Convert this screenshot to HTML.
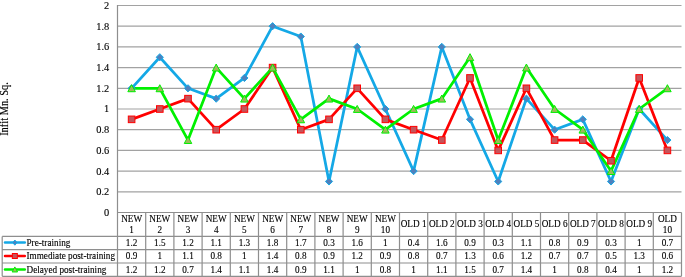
<!DOCTYPE html><html><head><meta charset="utf-8"><style>html,body{margin:0;padding:0;background:#fff;}body{width:685px;height:277px;overflow:hidden;}svg{display:block;will-change:transform;}text{font-family:"Liberation Serif",serif;fill:#000;stroke:#000;stroke-width:0.12px;}</style></head><body>
<svg width="685" height="277" viewBox="0 0 685 277">
<path d="M117.50 191.80H681.50M117.50 171.10H681.50M117.50 150.40H681.50M117.50 129.70H681.50M117.50 109.00H681.50M117.50 88.30H681.50M117.50 67.60H681.50M117.50 46.90H681.50M117.50 26.20H681.50M117.50 5.50H681.50" stroke="#a2a2a2" stroke-width="1.2" fill="none"/>
<path d="M117.50 5.00V276.30M117.50 212.50H681.50M145.70 212.50V276.30M173.90 212.50V276.30M202.10 212.50V276.30M230.30 212.50V276.30M258.50 212.50V276.30M286.70 212.50V276.30M314.90 212.50V276.30M343.10 212.50V276.30M371.30 212.50V276.30M399.50 212.50V276.30M427.70 212.50V276.30M455.90 212.50V276.30M484.10 212.50V276.30M512.30 212.50V276.30M540.50 212.50V276.30M568.70 212.50V276.30M596.90 212.50V276.30M625.10 212.50V276.30M653.30 212.50V276.30M681.50 212.50V276.30M2.20 236.40H681.50M2.20 249.70H681.50M2.20 263.00H681.50M2.20 276.30H681.50M2.20 236.40V276.30" stroke="#8e8e8e" stroke-width="1.2" fill="none"/>
<text transform="translate(109.30 215.90) scale(1 1.070)" font-size="10.4" text-anchor="end">0</text>
<text transform="translate(109.30 195.20) scale(1 1.070)" font-size="10.4" text-anchor="end">0.2</text>
<text transform="translate(109.30 174.50) scale(1 1.070)" font-size="10.4" text-anchor="end">0.4</text>
<text transform="translate(109.30 153.80) scale(1 1.070)" font-size="10.4" text-anchor="end">0.6</text>
<text transform="translate(109.30 133.10) scale(1 1.070)" font-size="10.4" text-anchor="end">0.8</text>
<text transform="translate(109.30 112.40) scale(1 1.070)" font-size="10.4" text-anchor="end">1</text>
<text transform="translate(109.30 91.70) scale(1 1.070)" font-size="10.4" text-anchor="end">1.2</text>
<text transform="translate(109.30 71.00) scale(1 1.070)" font-size="10.4" text-anchor="end">1.4</text>
<text transform="translate(109.30 50.30) scale(1 1.070)" font-size="10.4" text-anchor="end">1.6</text>
<text transform="translate(109.30 29.60) scale(1 1.070)" font-size="10.4" text-anchor="end">1.8</text>
<text transform="translate(109.30 8.90) scale(1 1.070)" font-size="10.4" text-anchor="end">2</text>
<text transform="translate(7.9,109) rotate(-90) scale(1,1.12)" font-size="10.4" text-anchor="middle">Infit Mn. Sq.</text>
<polyline points="131.60,88.30 159.80,57.25 188.00,88.30 216.20,98.65 244.40,77.95 272.60,26.20 300.80,36.55 329.00,181.45 357.20,46.90 385.40,109.00 413.60,171.10 441.80,46.90 470.00,119.35 498.20,181.45 526.40,98.65 554.60,129.70 582.80,119.35 611.00,181.45 639.20,109.00 667.40,140.05" fill="none" stroke="#14a8e6" stroke-width="2.75" stroke-linejoin="round"/>
<polyline points="131.60,119.35 159.80,109.00 188.00,98.65 216.20,129.70 244.40,109.00 272.60,67.60 300.80,129.70 329.00,119.35 357.20,88.30 385.40,119.35 413.60,129.70 441.80,140.05 470.00,77.95 498.20,150.40 526.40,88.30 554.60,140.05 582.80,140.05 611.00,160.75 639.20,77.95 667.40,150.40" fill="none" stroke="#ff0000" stroke-width="2.75" stroke-linejoin="round"/>
<polyline points="131.60,88.30 159.80,88.30 188.00,140.05 216.20,67.60 244.40,98.65 272.60,67.60 300.80,119.35 329.00,98.65 357.20,109.00 385.40,129.70 413.60,109.00 441.80,98.65 470.00,57.25 498.20,140.05 526.40,67.60 554.60,109.00 582.80,129.70 611.00,171.10 639.20,109.00 667.40,88.30" fill="none" stroke="#00f000" stroke-width="2.75" stroke-linejoin="round"/>
<path d="M131.60 84.70L135.20 88.30L131.60 91.90L128.00 88.30Z" fill="#4f81bd" stroke="#14a8e6" stroke-width="1"/>
<path d="M159.80 53.65L163.40 57.25L159.80 60.85L156.20 57.25Z" fill="#4f81bd" stroke="#14a8e6" stroke-width="1"/>
<path d="M188.00 84.70L191.60 88.30L188.00 91.90L184.40 88.30Z" fill="#4f81bd" stroke="#14a8e6" stroke-width="1"/>
<path d="M216.20 95.05L219.80 98.65L216.20 102.25L212.60 98.65Z" fill="#4f81bd" stroke="#14a8e6" stroke-width="1"/>
<path d="M244.40 74.35L248.00 77.95L244.40 81.55L240.80 77.95Z" fill="#4f81bd" stroke="#14a8e6" stroke-width="1"/>
<path d="M272.60 22.60L276.20 26.20L272.60 29.80L269.00 26.20Z" fill="#4f81bd" stroke="#14a8e6" stroke-width="1"/>
<path d="M300.80 32.95L304.40 36.55L300.80 40.15L297.20 36.55Z" fill="#4f81bd" stroke="#14a8e6" stroke-width="1"/>
<path d="M329.00 177.85L332.60 181.45L329.00 185.05L325.40 181.45Z" fill="#4f81bd" stroke="#14a8e6" stroke-width="1"/>
<path d="M357.20 43.30L360.80 46.90L357.20 50.50L353.60 46.90Z" fill="#4f81bd" stroke="#14a8e6" stroke-width="1"/>
<path d="M385.40 105.40L389.00 109.00L385.40 112.60L381.80 109.00Z" fill="#4f81bd" stroke="#14a8e6" stroke-width="1"/>
<path d="M413.60 167.50L417.20 171.10L413.60 174.70L410.00 171.10Z" fill="#4f81bd" stroke="#14a8e6" stroke-width="1"/>
<path d="M441.80 43.30L445.40 46.90L441.80 50.50L438.20 46.90Z" fill="#4f81bd" stroke="#14a8e6" stroke-width="1"/>
<path d="M470.00 115.75L473.60 119.35L470.00 122.95L466.40 119.35Z" fill="#4f81bd" stroke="#14a8e6" stroke-width="1"/>
<path d="M498.20 177.85L501.80 181.45L498.20 185.05L494.60 181.45Z" fill="#4f81bd" stroke="#14a8e6" stroke-width="1"/>
<path d="M526.40 95.05L530.00 98.65L526.40 102.25L522.80 98.65Z" fill="#4f81bd" stroke="#14a8e6" stroke-width="1"/>
<path d="M554.60 126.10L558.20 129.70L554.60 133.30L551.00 129.70Z" fill="#4f81bd" stroke="#14a8e6" stroke-width="1"/>
<path d="M582.80 115.75L586.40 119.35L582.80 122.95L579.20 119.35Z" fill="#4f81bd" stroke="#14a8e6" stroke-width="1"/>
<path d="M611.00 177.85L614.60 181.45L611.00 185.05L607.40 181.45Z" fill="#4f81bd" stroke="#14a8e6" stroke-width="1"/>
<path d="M639.20 105.40L642.80 109.00L639.20 112.60L635.60 109.00Z" fill="#4f81bd" stroke="#14a8e6" stroke-width="1"/>
<path d="M667.40 136.45L671.00 140.05L667.40 143.65L663.80 140.05Z" fill="#4f81bd" stroke="#14a8e6" stroke-width="1"/>
<rect x="128.30" y="116.05" width="6.60" height="6.60" fill="#c6545a" stroke="#ff0000" stroke-width="1"/>
<rect x="156.50" y="105.70" width="6.60" height="6.60" fill="#c6545a" stroke="#ff0000" stroke-width="1"/>
<rect x="184.70" y="95.35" width="6.60" height="6.60" fill="#c6545a" stroke="#ff0000" stroke-width="1"/>
<rect x="212.90" y="126.40" width="6.60" height="6.60" fill="#c6545a" stroke="#ff0000" stroke-width="1"/>
<rect x="241.10" y="105.70" width="6.60" height="6.60" fill="#c6545a" stroke="#ff0000" stroke-width="1"/>
<rect x="269.30" y="64.30" width="6.60" height="6.60" fill="#c6545a" stroke="#ff0000" stroke-width="1"/>
<rect x="297.50" y="126.40" width="6.60" height="6.60" fill="#c6545a" stroke="#ff0000" stroke-width="1"/>
<rect x="325.70" y="116.05" width="6.60" height="6.60" fill="#c6545a" stroke="#ff0000" stroke-width="1"/>
<rect x="353.90" y="85.00" width="6.60" height="6.60" fill="#c6545a" stroke="#ff0000" stroke-width="1"/>
<rect x="382.10" y="116.05" width="6.60" height="6.60" fill="#c6545a" stroke="#ff0000" stroke-width="1"/>
<rect x="410.30" y="126.40" width="6.60" height="6.60" fill="#c6545a" stroke="#ff0000" stroke-width="1"/>
<rect x="438.50" y="136.75" width="6.60" height="6.60" fill="#c6545a" stroke="#ff0000" stroke-width="1"/>
<rect x="466.70" y="74.65" width="6.60" height="6.60" fill="#c6545a" stroke="#ff0000" stroke-width="1"/>
<rect x="494.90" y="147.10" width="6.60" height="6.60" fill="#c6545a" stroke="#ff0000" stroke-width="1"/>
<rect x="523.10" y="85.00" width="6.60" height="6.60" fill="#c6545a" stroke="#ff0000" stroke-width="1"/>
<rect x="551.30" y="136.75" width="6.60" height="6.60" fill="#c6545a" stroke="#ff0000" stroke-width="1"/>
<rect x="579.50" y="136.75" width="6.60" height="6.60" fill="#c6545a" stroke="#ff0000" stroke-width="1"/>
<rect x="607.70" y="157.45" width="6.60" height="6.60" fill="#c6545a" stroke="#ff0000" stroke-width="1"/>
<rect x="635.90" y="74.65" width="6.60" height="6.60" fill="#c6545a" stroke="#ff0000" stroke-width="1"/>
<rect x="664.10" y="147.10" width="6.60" height="6.60" fill="#c6545a" stroke="#ff0000" stroke-width="1"/>
<path d="M131.60 84.70L135.38 91.72L127.82 91.72Z" fill="#9bbb59" stroke="#00f000" stroke-width="1"/>
<path d="M159.80 84.70L163.58 91.72L156.02 91.72Z" fill="#9bbb59" stroke="#00f000" stroke-width="1"/>
<path d="M188.00 136.45L191.78 143.47L184.22 143.47Z" fill="#9bbb59" stroke="#00f000" stroke-width="1"/>
<path d="M216.20 64.00L219.98 71.02L212.42 71.02Z" fill="#9bbb59" stroke="#00f000" stroke-width="1"/>
<path d="M244.40 95.05L248.18 102.07L240.62 102.07Z" fill="#9bbb59" stroke="#00f000" stroke-width="1"/>
<path d="M272.60 64.00L276.38 71.02L268.82 71.02Z" fill="#9bbb59" stroke="#00f000" stroke-width="1"/>
<path d="M300.80 115.75L304.58 122.77L297.02 122.77Z" fill="#9bbb59" stroke="#00f000" stroke-width="1"/>
<path d="M329.00 95.05L332.78 102.07L325.22 102.07Z" fill="#9bbb59" stroke="#00f000" stroke-width="1"/>
<path d="M357.20 105.40L360.98 112.42L353.42 112.42Z" fill="#9bbb59" stroke="#00f000" stroke-width="1"/>
<path d="M385.40 126.10L389.18 133.12L381.62 133.12Z" fill="#9bbb59" stroke="#00f000" stroke-width="1"/>
<path d="M413.60 105.40L417.38 112.42L409.82 112.42Z" fill="#9bbb59" stroke="#00f000" stroke-width="1"/>
<path d="M441.80 95.05L445.58 102.07L438.02 102.07Z" fill="#9bbb59" stroke="#00f000" stroke-width="1"/>
<path d="M470.00 53.65L473.78 60.67L466.22 60.67Z" fill="#9bbb59" stroke="#00f000" stroke-width="1"/>
<path d="M498.20 136.45L501.98 143.47L494.42 143.47Z" fill="#9bbb59" stroke="#00f000" stroke-width="1"/>
<path d="M526.40 64.00L530.18 71.02L522.62 71.02Z" fill="#9bbb59" stroke="#00f000" stroke-width="1"/>
<path d="M554.60 105.40L558.38 112.42L550.82 112.42Z" fill="#9bbb59" stroke="#00f000" stroke-width="1"/>
<path d="M582.80 126.10L586.58 133.12L579.02 133.12Z" fill="#9bbb59" stroke="#00f000" stroke-width="1"/>
<path d="M611.00 167.50L614.78 174.52L607.22 174.52Z" fill="#9bbb59" stroke="#00f000" stroke-width="1"/>
<path d="M639.20 105.40L642.98 112.42L635.42 112.42Z" fill="#9bbb59" stroke="#00f000" stroke-width="1"/>
<path d="M667.40 84.70L671.18 91.72L663.62 91.72Z" fill="#9bbb59" stroke="#00f000" stroke-width="1"/>
<text transform="translate(131.60 221.70) scale(1 1.080)" font-size="9.2" text-anchor="middle">NEW</text>
<text transform="translate(131.60 232.50) scale(1 1.080)" font-size="9.2" text-anchor="middle">1</text>
<text transform="translate(159.80 221.70) scale(1 1.080)" font-size="9.2" text-anchor="middle">NEW</text>
<text transform="translate(159.80 232.50) scale(1 1.080)" font-size="9.2" text-anchor="middle">2</text>
<text transform="translate(188.00 221.70) scale(1 1.080)" font-size="9.2" text-anchor="middle">NEW</text>
<text transform="translate(188.00 232.50) scale(1 1.080)" font-size="9.2" text-anchor="middle">3</text>
<text transform="translate(216.20 221.70) scale(1 1.080)" font-size="9.2" text-anchor="middle">NEW</text>
<text transform="translate(216.20 232.50) scale(1 1.080)" font-size="9.2" text-anchor="middle">4</text>
<text transform="translate(244.40 221.70) scale(1 1.080)" font-size="9.2" text-anchor="middle">NEW</text>
<text transform="translate(244.40 232.50) scale(1 1.080)" font-size="9.2" text-anchor="middle">5</text>
<text transform="translate(272.60 221.70) scale(1 1.080)" font-size="9.2" text-anchor="middle">NEW</text>
<text transform="translate(272.60 232.50) scale(1 1.080)" font-size="9.2" text-anchor="middle">6</text>
<text transform="translate(300.80 221.70) scale(1 1.080)" font-size="9.2" text-anchor="middle">NEW</text>
<text transform="translate(300.80 232.50) scale(1 1.080)" font-size="9.2" text-anchor="middle">7</text>
<text transform="translate(329.00 221.70) scale(1 1.080)" font-size="9.2" text-anchor="middle">NEW</text>
<text transform="translate(329.00 232.50) scale(1 1.080)" font-size="9.2" text-anchor="middle">8</text>
<text transform="translate(357.20 221.70) scale(1 1.080)" font-size="9.2" text-anchor="middle">NEW</text>
<text transform="translate(357.20 232.50) scale(1 1.080)" font-size="9.2" text-anchor="middle">9</text>
<text transform="translate(385.40 221.70) scale(1 1.080)" font-size="9.2" text-anchor="middle">NEW</text>
<text transform="translate(385.40 232.50) scale(1 1.080)" font-size="9.2" text-anchor="middle">10</text>
<text transform="translate(413.60 227.30) scale(1 1.080)" font-size="9.2" text-anchor="middle">OLD 1</text>
<text transform="translate(441.80 227.30) scale(1 1.080)" font-size="9.2" text-anchor="middle">OLD 2</text>
<text transform="translate(470.00 227.30) scale(1 1.080)" font-size="9.2" text-anchor="middle">OLD 3</text>
<text transform="translate(498.20 227.30) scale(1 1.080)" font-size="9.2" text-anchor="middle">OLD 4</text>
<text transform="translate(526.40 227.30) scale(1 1.080)" font-size="9.2" text-anchor="middle">OLD 5</text>
<text transform="translate(554.60 227.30) scale(1 1.080)" font-size="9.2" text-anchor="middle">OLD 6</text>
<text transform="translate(582.80 227.30) scale(1 1.080)" font-size="9.2" text-anchor="middle">OLD 7</text>
<text transform="translate(611.00 227.30) scale(1 1.080)" font-size="9.2" text-anchor="middle">OLD 8</text>
<text transform="translate(639.20 227.30) scale(1 1.080)" font-size="9.2" text-anchor="middle">OLD 9</text>
<text transform="translate(667.40 221.70) scale(1 1.080)" font-size="9.2" text-anchor="middle">OLD</text>
<text transform="translate(667.40 232.50) scale(1 1.080)" font-size="9.2" text-anchor="middle">10</text>
<text transform="translate(131.60 245.80) scale(1 1.080)" font-size="9.2" text-anchor="middle">1.2</text>
<text transform="translate(159.80 245.80) scale(1 1.080)" font-size="9.2" text-anchor="middle">1.5</text>
<text transform="translate(188.00 245.80) scale(1 1.080)" font-size="9.2" text-anchor="middle">1.2</text>
<text transform="translate(216.20 245.80) scale(1 1.080)" font-size="9.2" text-anchor="middle">1.1</text>
<text transform="translate(244.40 245.80) scale(1 1.080)" font-size="9.2" text-anchor="middle">1.3</text>
<text transform="translate(272.60 245.80) scale(1 1.080)" font-size="9.2" text-anchor="middle">1.8</text>
<text transform="translate(300.80 245.80) scale(1 1.080)" font-size="9.2" text-anchor="middle">1.7</text>
<text transform="translate(329.00 245.80) scale(1 1.080)" font-size="9.2" text-anchor="middle">0.3</text>
<text transform="translate(357.20 245.80) scale(1 1.080)" font-size="9.2" text-anchor="middle">1.6</text>
<text transform="translate(385.40 245.80) scale(1 1.080)" font-size="9.2" text-anchor="middle">1</text>
<text transform="translate(413.60 245.80) scale(1 1.080)" font-size="9.2" text-anchor="middle">0.4</text>
<text transform="translate(441.80 245.80) scale(1 1.080)" font-size="9.2" text-anchor="middle">1.6</text>
<text transform="translate(470.00 245.80) scale(1 1.080)" font-size="9.2" text-anchor="middle">0.9</text>
<text transform="translate(498.20 245.80) scale(1 1.080)" font-size="9.2" text-anchor="middle">0.3</text>
<text transform="translate(526.40 245.80) scale(1 1.080)" font-size="9.2" text-anchor="middle">1.1</text>
<text transform="translate(554.60 245.80) scale(1 1.080)" font-size="9.2" text-anchor="middle">0.8</text>
<text transform="translate(582.80 245.80) scale(1 1.080)" font-size="9.2" text-anchor="middle">0.9</text>
<text transform="translate(611.00 245.80) scale(1 1.080)" font-size="9.2" text-anchor="middle">0.3</text>
<text transform="translate(639.20 245.80) scale(1 1.080)" font-size="9.2" text-anchor="middle">1</text>
<text transform="translate(667.40 245.80) scale(1 1.080)" font-size="9.2" text-anchor="middle">0.7</text>
<text transform="translate(26.50 245.80) scale(1 1.080)" font-size="9.2">Pre-training</text>
<text transform="translate(131.60 259.10) scale(1 1.080)" font-size="9.2" text-anchor="middle">0.9</text>
<text transform="translate(159.80 259.10) scale(1 1.080)" font-size="9.2" text-anchor="middle">1</text>
<text transform="translate(188.00 259.10) scale(1 1.080)" font-size="9.2" text-anchor="middle">1.1</text>
<text transform="translate(216.20 259.10) scale(1 1.080)" font-size="9.2" text-anchor="middle">0.8</text>
<text transform="translate(244.40 259.10) scale(1 1.080)" font-size="9.2" text-anchor="middle">1</text>
<text transform="translate(272.60 259.10) scale(1 1.080)" font-size="9.2" text-anchor="middle">1.4</text>
<text transform="translate(300.80 259.10) scale(1 1.080)" font-size="9.2" text-anchor="middle">0.8</text>
<text transform="translate(329.00 259.10) scale(1 1.080)" font-size="9.2" text-anchor="middle">0.9</text>
<text transform="translate(357.20 259.10) scale(1 1.080)" font-size="9.2" text-anchor="middle">1.2</text>
<text transform="translate(385.40 259.10) scale(1 1.080)" font-size="9.2" text-anchor="middle">0.9</text>
<text transform="translate(413.60 259.10) scale(1 1.080)" font-size="9.2" text-anchor="middle">0.8</text>
<text transform="translate(441.80 259.10) scale(1 1.080)" font-size="9.2" text-anchor="middle">0.7</text>
<text transform="translate(470.00 259.10) scale(1 1.080)" font-size="9.2" text-anchor="middle">1.3</text>
<text transform="translate(498.20 259.10) scale(1 1.080)" font-size="9.2" text-anchor="middle">0.6</text>
<text transform="translate(526.40 259.10) scale(1 1.080)" font-size="9.2" text-anchor="middle">1.2</text>
<text transform="translate(554.60 259.10) scale(1 1.080)" font-size="9.2" text-anchor="middle">0.7</text>
<text transform="translate(582.80 259.10) scale(1 1.080)" font-size="9.2" text-anchor="middle">0.7</text>
<text transform="translate(611.00 259.10) scale(1 1.080)" font-size="9.2" text-anchor="middle">0.5</text>
<text transform="translate(639.20 259.10) scale(1 1.080)" font-size="9.2" text-anchor="middle">1.3</text>
<text transform="translate(667.40 259.10) scale(1 1.080)" font-size="9.2" text-anchor="middle">0.6</text>
<text transform="translate(26.50 259.10) scale(1 1.080)" font-size="9.2">Immediate post-training</text>
<text transform="translate(131.60 272.60) scale(1 1.080)" font-size="9.2" text-anchor="middle">1.2</text>
<text transform="translate(159.80 272.60) scale(1 1.080)" font-size="9.2" text-anchor="middle">1.2</text>
<text transform="translate(188.00 272.60) scale(1 1.080)" font-size="9.2" text-anchor="middle">0.7</text>
<text transform="translate(216.20 272.60) scale(1 1.080)" font-size="9.2" text-anchor="middle">1.4</text>
<text transform="translate(244.40 272.60) scale(1 1.080)" font-size="9.2" text-anchor="middle">1.1</text>
<text transform="translate(272.60 272.60) scale(1 1.080)" font-size="9.2" text-anchor="middle">1.4</text>
<text transform="translate(300.80 272.60) scale(1 1.080)" font-size="9.2" text-anchor="middle">0.9</text>
<text transform="translate(329.00 272.60) scale(1 1.080)" font-size="9.2" text-anchor="middle">1.1</text>
<text transform="translate(357.20 272.60) scale(1 1.080)" font-size="9.2" text-anchor="middle">1</text>
<text transform="translate(385.40 272.60) scale(1 1.080)" font-size="9.2" text-anchor="middle">0.8</text>
<text transform="translate(413.60 272.60) scale(1 1.080)" font-size="9.2" text-anchor="middle">1</text>
<text transform="translate(441.80 272.60) scale(1 1.080)" font-size="9.2" text-anchor="middle">1.1</text>
<text transform="translate(470.00 272.60) scale(1 1.080)" font-size="9.2" text-anchor="middle">1.5</text>
<text transform="translate(498.20 272.60) scale(1 1.080)" font-size="9.2" text-anchor="middle">0.7</text>
<text transform="translate(526.40 272.60) scale(1 1.080)" font-size="9.2" text-anchor="middle">1.4</text>
<text transform="translate(554.60 272.60) scale(1 1.080)" font-size="9.2" text-anchor="middle">1</text>
<text transform="translate(582.80 272.60) scale(1 1.080)" font-size="9.2" text-anchor="middle">0.8</text>
<text transform="translate(611.00 272.60) scale(1 1.080)" font-size="9.2" text-anchor="middle">0.4</text>
<text transform="translate(639.20 272.60) scale(1 1.080)" font-size="9.2" text-anchor="middle">1</text>
<text transform="translate(667.40 272.60) scale(1 1.080)" font-size="9.2" text-anchor="middle">1.2</text>
<text transform="translate(26.50 272.60) scale(1 1.080)" font-size="9.2">Delayed post-training</text>
<path d="M5 242.60H24.8" stroke="#14a8e6" stroke-width="2.5" stroke-linecap="round"/>
<path d="M14.85 240.00L16.95 242.60L14.85 245.20L12.75 242.60Z" fill="#4f81bd" stroke="#14a8e6" stroke-width="1"/>
<path d="M5 256.00H24.8" stroke="#ff0000" stroke-width="2.5" stroke-linecap="round"/>
<rect x="12.35" y="253.50" width="5.00" height="5.00" fill="#c6545a" stroke="#ff0000" stroke-width="1"/>
<path d="M5 269.50H24.8" stroke="#00f000" stroke-width="2.5" stroke-linecap="round"/>
<path d="M14.85 266.90L17.58 271.97L12.12 271.97Z" fill="#9bbb59" stroke="#00f000" stroke-width="1"/>
</svg></body></html>
